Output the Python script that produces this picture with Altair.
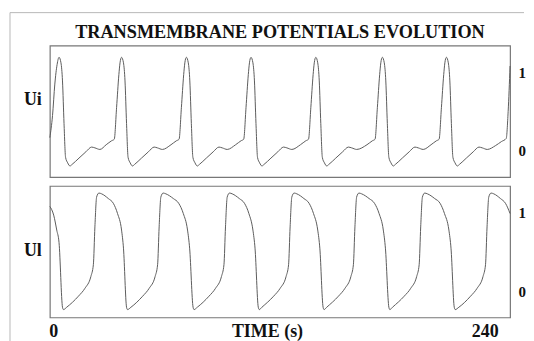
import altair as alt
import pandas as pd

# ---- data ----
ui_t = [0, 1.4, 2.6, 3.8, 4.8,
        5.8, 6.6, 7.4, 8.2, 9.3, 10.5, 11.6, 15.2, 18.8, 21.8, 23.5, 26.1,
        29.4, 32.2, 33.6, 34.8, 36.0, 36.6, 37.4,
        38.4, 39.2, 40.0, 40.8, 41.9, 43.1, 44.2, 47.8, 51.4, 54.4, 56.1, 58.7,
        63.2, 66.0, 67.4, 68.6, 69.8, 70.4, 71.2,
        72.2, 73.0, 73.8, 74.6, 75.7, 76.9, 78.0, 81.6, 85.2, 88.2, 89.9, 92.5,
        96.9, 99.7, 101.1, 102.3, 103.5, 104.1, 104.9,
        105.9, 106.7, 107.5, 108.3, 109.4, 110.6, 111.7, 115.3, 118.9, 121.9, 123.6, 126.2,
        130.7, 133.5, 134.9, 136.1, 137.3, 137.9, 138.7,
        139.7, 140.5, 141.3, 142.1, 143.2, 144.4, 145.5, 149.1, 152.7, 155.7, 157.4, 160.0,
        165.4, 168.2, 169.6, 170.8, 172.0, 172.6, 173.4,
        174.4, 175.2, 176.0, 176.8, 177.9, 179.1, 180.2, 183.8, 187.4, 190.4, 192.1, 194.7,
        198.8, 201.6, 203.0, 204.2, 205.4, 206.0, 206.8,
        207.8, 208.6, 209.4, 210.2, 211.3, 212.5, 213.6, 217.2, 220.8, 223.8, 225.5, 228.1,
        232.5, 235.5, 238.0, 239.0, 240.0]
ui_v = [0.17, 0.45, 0.85, 1.10, 1.19,
        1.12, 0.89, 0.35, -0.08, -0.15, -0.19, -0.17, -0.09, -0.01, 0.05, 0.04, 0.02,
        0.08, 0.13, 0.15, 0.55, 0.97, 1.12, 1.19,
        1.12, 0.89, 0.35, -0.08, -0.15, -0.19, -0.17, -0.09, -0.01, 0.05, 0.04, 0.02,
        0.08, 0.13, 0.15, 0.55, 0.97, 1.12, 1.19,
        1.12, 0.89, 0.35, -0.08, -0.15, -0.19, -0.17, -0.09, -0.01, 0.05, 0.04, 0.02,
        0.08, 0.13, 0.15, 0.55, 0.97, 1.12, 1.19,
        1.12, 0.89, 0.35, -0.08, -0.15, -0.19, -0.17, -0.09, -0.01, 0.05, 0.04, 0.02,
        0.08, 0.13, 0.15, 0.55, 0.97, 1.12, 1.19,
        1.12, 0.89, 0.35, -0.08, -0.15, -0.19, -0.17, -0.09, -0.01, 0.05, 0.04, 0.02,
        0.08, 0.13, 0.15, 0.55, 0.97, 1.12, 1.19,
        1.12, 0.89, 0.35, -0.08, -0.15, -0.19, -0.17, -0.09, -0.01, 0.05, 0.04, 0.02,
        0.08, 0.13, 0.15, 0.55, 0.97, 1.12, 1.19,
        1.12, 0.89, 0.35, -0.08, -0.15, -0.19, -0.17, -0.09, -0.01, 0.05, 0.04, 0.02,
        0.07, 0.12, 0.16, 0.50, 1.08]

ul_t = [0, 2.0, 3.6, 4.8, 6.6, 7.1,
        8.8, 14.9, 18.3, 21.4, 22.7, 23.5, 24.4, 25.6, 27.0, 30.5, 33.1, 35.3, 37.4, 38.4, 40.0, 40.5,
        42.3, 48.4, 51.8, 54.9, 56.2, 57.0, 57.9, 59.1, 60.5, 64.4, 67.2, 69.6, 71.8, 72.9, 74.7, 75.2,
        76.9, 83.0, 86.4, 89.5, 90.8, 91.6, 92.5, 93.7, 95.1, 98.8, 101.5, 103.8, 105.9, 107.0, 108.7, 109.2,
        110.6, 116.7, 120.1, 123.2, 124.5, 125.3, 126.2, 127.4, 128.8, 132.5, 135.2, 137.5, 139.7, 140.8, 142.5, 143.0,
        144.4, 150.5, 153.9, 157.0, 158.3, 159.1, 160.0, 161.2, 162.6, 166.5, 169.3, 171.7, 173.9, 175.0, 176.8, 177.3,
        178.7, 184.8, 188.2, 191.3, 192.6, 193.4, 194.3, 195.5, 196.9, 200.7, 203.5, 205.8, 208.1, 209.2, 210.9, 211.4,
        213.3, 219.4, 222.8, 225.9, 227.2, 228.0, 228.9, 230.1, 231.5, 235.0, 237.6, 240.0]
ul_v = [1.08, 0.97, 0.78, 0.62, -0.20, -0.23,
        -0.20, -0.06, 0.04, 0.19, 0.34, 0.82, 1.20, 1.25, 1.24, 1.18, 1.12, 0.99, 0.78, 0.55, -0.20, -0.23,
        -0.20, -0.06, 0.04, 0.19, 0.34, 0.82, 1.20, 1.25, 1.24, 1.18, 1.12, 0.99, 0.78, 0.55, -0.20, -0.23,
        -0.20, -0.06, 0.04, 0.19, 0.34, 0.82, 1.20, 1.25, 1.24, 1.18, 1.12, 0.99, 0.78, 0.55, -0.20, -0.23,
        -0.20, -0.06, 0.04, 0.19, 0.34, 0.82, 1.20, 1.25, 1.24, 1.18, 1.12, 0.99, 0.78, 0.55, -0.20, -0.23,
        -0.20, -0.06, 0.04, 0.19, 0.34, 0.82, 1.20, 1.25, 1.24, 1.18, 1.12, 0.99, 0.78, 0.55, -0.20, -0.23,
        -0.20, -0.06, 0.04, 0.19, 0.34, 0.82, 1.20, 1.25, 1.24, 1.18, 1.12, 0.99, 0.78, 0.55, -0.20, -0.23,
        -0.20, -0.06, 0.04, 0.19, 0.34, 0.82, 1.20, 1.25, 1.24, 1.18, 1.12, 0.99]

series_names = ["Ui", "Ul"]
x_ticks = [0, 240]
y_ticks = [0, 1]
chart_title = "TRANSMEMBRANE POTENTIALS EVOLUTION"

df = pd.concat([
    pd.DataFrame({"series": series_names[0], "t": ui_t, "v": ui_v}),
    pd.DataFrame({"series": series_names[1], "t": ul_t, "v": ul_v}),
], ignore_index=True)

FONT = "Liberation Serif"
INK = "#111111"

line = alt.Chart().mark_line(color="#5c5c5c", strokeWidth=1.0, interpolate="monotone").encode(
    x=alt.X("t:Q",
            scale=alt.Scale(domain=[0, 240], nice=False, zero=False),
            axis=alt.Axis(values=x_ticks, title="TIME (s)", ticks=False, domain=False, grid=False,
                          labelFont=FONT, labelFontWeight="bold", labelFontSize=18, labelColor=INK,
                          labelBaseline="alphabetic", labelPadding=19,
                          labelAlign={"condition": {"test": "datum.value == 0", "value": "left"}, "value": "right"},
                          labelOffset={"condition": {"test": "datum.value == 0", "value": -1}, "value": -12},
                          titleFont=FONT, titleFontWeight="bold", titleFontSize=18, titleColor=INK,
                          titleBaseline="alphabetic", titleY=19, titleX=218)),
    y=alt.Y("v:Q",
            scale=alt.Scale(domain=[-0.33, 1.34], nice=False, zero=False),
            axis=alt.Axis(values=y_ticks, orient="right", title=None, ticks=False, domain=False, grid=False,
                          labelFont=FONT, labelFontWeight="bold", labelFontSize=15, labelColor=INK,
                          labelPadding=8)),
)

first_top = "datum.series == 'Ui' && datum.t == 0"
first_bot = "datum.series == 'Ul' && datum.t == 0"

frame_h = alt.Chart().mark_rule(color="#b8b8b8", strokeWidth=1).encode(
    x=alt.value(-40), x2=alt.value(476), y=alt.value(-33)
).transform_filter(first_top)

frame_v = alt.Chart().mark_rule(color="#b8b8b8", strokeWidth=1).encode(
    x=alt.value(-40), y=alt.value(-33), y2=alt.value(298)
).transform_filter(first_top)

title_txt = alt.Chart().mark_text(font=FONT, fontWeight="bold", fontSize=18.3, color=INK,
                                  align="center", baseline="alphabetic").encode(
    x=alt.value(231), y=alt.value(-8), text=alt.value(chart_title)
).transform_filter(first_top)

lab_top = alt.Chart().mark_text(font=FONT, fontWeight="bold", fontSize=18, color=INK,
                                align="right", baseline="middle").encode(
    x=alt.value(-8), y=alt.value(55), text="series:N"
).transform_filter(first_top)

lab_bot = alt.Chart().mark_text(font=FONT, fontWeight="bold", fontSize=18, color=INK,
                                align="right", baseline="middle").encode(
    x=alt.value(-8), y=alt.value(65), text="series:N"
).transform_filter(first_bot)

chart = alt.layer(frame_h, frame_v, title_txt, lab_top, lab_bot, line, data=df).properties(
    width=462, height=132
).facet(
    row=alt.Row("series:N", sort=series_names, header=alt.Header(title=None, labels=False))
).properties(
    bounds="flush", spacing=9, padding={"left": 0, "top": 2, "right": 0, "bottom": 0}
).configure_view(
    stroke="#777777", strokeWidth=1.2
)

chart.save("out.html", embed_options={"renderer": "svg", "actions": False})
